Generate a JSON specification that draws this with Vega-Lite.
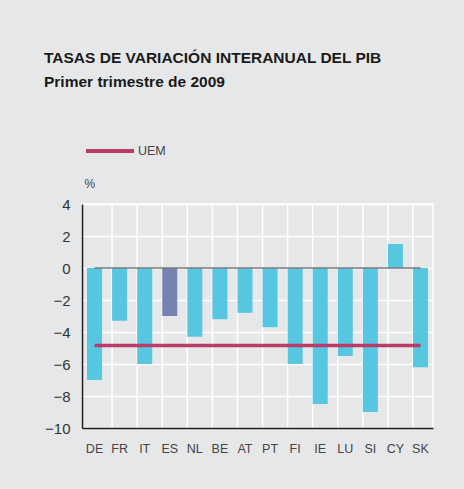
{
  "$schema": "https://vega.github.io/schema/vega-lite/v6.json",
  "width": 351,
  "height": 224,
  "autosize": {"type": "none"},
  "padding": {"left": 82, "top": 204, "right": 31, "bottom": 61},
  "background": "#e6e7e9",
  "config": {
    "font": "Liberation Sans",
    "view": {"stroke": "white", "strokeWidth": 1.5},
    "axisY": {
      "values": [-10, -8, -6, -4, -2, 0, 2, 4],
      "tickCount": 8,
      "labelOverlap": false,
      "titleAngle": 0,
      "titleX": 2,
      "titleY": -14,
      "titleAlign": "left",
      "titleFontWeight": "normal",
      "titleFontSize": 12,
      "titleColor": "#444444",
      "ticks": false,
      "gridColor": "white",
      "gridWidth": 1.5,
      "gridOpacity": 1,
      "domainColor": "#1a1a1a",
      "domainWidth": 1.5,
      "labelFontSize": 15,
      "labelColor": "#333333",
      "labelPadding": 12,
      "zindex": 0
    }
  },
  "title": {
    "text": "TASAS DE VARIACIÓN INTERANUAL DEL PIB",
    "subtitle": "Primer trimestre de 2009",
    "anchor": "start",
    "frame": "group",
    "dx": -38,
    "offset": 35,
    "fontSize": 15.5,
    "fontWeight": "bold",
    "color": "#1a1a1a",
    "subtitleFontSize": 15.5,
    "subtitleFontWeight": "bold",
    "subtitleColor": "#1a1a1a",
    "subtitlePadding": 8
  },
  "data": {
    "values": [
      {"pais": "DE", "valor": -7.0, "grupo": "otros", "uem": -4.85, "cero": 0},
      {"pais": "FR", "valor": -3.3, "grupo": "otros", "uem": -4.85, "cero": 0},
      {"pais": "IT", "valor": -6.0, "grupo": "otros", "uem": -4.85, "cero": 0},
      {"pais": "ES", "valor": -3.0, "grupo": "ES", "uem": -4.85, "cero": 0},
      {"pais": "NL", "valor": -4.3, "grupo": "otros", "uem": -4.85, "cero": 0},
      {"pais": "BE", "valor": -3.2, "grupo": "otros", "uem": -4.85, "cero": 0},
      {"pais": "AT", "valor": -2.8, "grupo": "otros", "uem": -4.85, "cero": 0},
      {"pais": "PT", "valor": -3.7, "grupo": "otros", "uem": -4.85, "cero": 0},
      {"pais": "FI", "valor": -6.0, "grupo": "otros", "uem": -4.85, "cero": 0},
      {"pais": "IE", "valor": -8.5, "grupo": "otros", "uem": -4.85, "cero": 0},
      {"pais": "LU", "valor": -5.5, "grupo": "otros", "uem": -4.85, "cero": 0},
      {"pais": "SI", "valor": -9.0, "grupo": "otros", "uem": -4.85, "cero": 0},
      {"pais": "CY", "valor": 1.5, "grupo": "otros", "uem": -4.85, "cero": 0},
      {"pais": "SK", "valor": -6.2, "grupo": "otros", "uem": -4.85, "cero": 0}
    ]
  },
  "encoding": {
    "x": {
      "field": "pais",
      "type": "nominal",
      "sort": ["DE", "FR", "IT", "ES", "NL", "BE", "AT", "PT", "FI", "IE", "LU", "SI", "CY", "SK"],
      "scale": {"paddingInner": 0.4, "paddingOuter": 0.2},
      "axis": {
        "title": null,
        "labelAngle": 0,
        "ticks": false,
        "grid": false,
        "domainColor": "#1a1a1a",
        "domainWidth": 1.5,
        "labelFontSize": 12.5,
        "labelColor": "#444444",
        "labelPadding": 14,
        "zindex": 1
      }
    }
  },
  "layer": [
    {
      "transform": [{"filter": "datum.pais !== 'DE'"}],
      "mark": {"type": "rule", "color": "white", "strokeWidth": 1.5},
      "encoding": {
        "x": {"field": "pais", "type": "nominal", "sort": ["DE", "FR", "IT", "ES", "NL", "BE", "AT", "PT", "FI", "IE", "LU", "SI", "CY", "SK"], "bandPosition": 0}
      }
    },
    {
      "mark": {"type": "bar"},
      "encoding": {
        "y": {
          "field": "valor",
          "type": "quantitative",
          "title": "%",
          "scale": {"domain": [-10, 4], "nice": false}
        },
        "fill": {
          "field": "grupo",
          "type": "nominal",
          "scale": {"domain": ["ES", "otros"], "range": ["#7682b2", "#57c6e0"]},
          "legend": null
        }
      }
    },
    {
      "mark": {"type": "line", "color": "#7a7a7a", "strokeWidth": 1.5},
      "encoding": {
        "y": {"field": "cero", "type": "quantitative", "title": "%"}
      }
    },
    {
      "mark": {"type": "line", "strokeWidth": 3.5},
      "encoding": {
        "y": {"field": "uem", "type": "quantitative", "title": "%"},
        "stroke": {
          "datum": "UEM",
          "scale": {"range": ["#b83c66"]},
          "legend": {
            "title": null,
            "orient": "none",
            "legendX": 2,
            "legendY": -79,
            "symbolType": "stroke",
            "symbolSize": 2304,
            "symbolStrokeWidth": 4,
            "labelFontSize": 12.5,
            "labelColor": "#444444",
            "labelOffset": 2
          }
        }
      }
    }
  ]
}
